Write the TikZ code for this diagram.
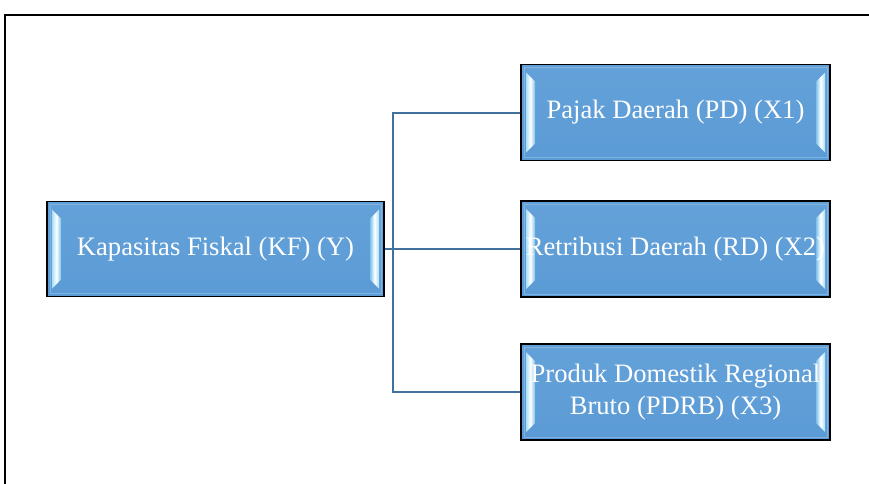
\documentclass[tikz,border=0pt]{standalone}
\usepackage{fontspec}
\setmainfont{Liberation Serif}
\usetikzlibrary{calc}

\definecolor{boxfill}{HTML}{5B9BD5}
\definecolor{boxtop}{HTML}{64A1D9}
\definecolor{rimcol}{HTML}{80B2E2}
\definecolor{linkcol}{HTML}{41719C}
\definecolor{bevout}{HTML}{A9E0F8}
\definecolor{bevin}{HTML}{7CC2EC}

\tikzset{
  bevelbox/.style={
    draw=black, line width=1.8pt, top color=boxtop, bottom color=boxfill,
    text=white, inner sep=0pt, align=center,
    font=\fontsize{26.6}{32}\selectfont,
    path picture={
      % thin lighter rim just inside the border
      \draw[rimcol, line width=1pt]
        ($(path picture bounding box.north west)+(3,3)$) rectangle
        ($(path picture bounding box.south east)+(-3,-3)$);
      % left bevel strip
      \shade[left color=bevout, right color=bevin, middle color=white]
        ($(path picture bounding box.north west)+(5,8)$) --
        ($(path picture bounding box.north west)+(14,17)$) --
        ($(path picture bounding box.south west)+(14,-17)$) --
        ($(path picture bounding box.south west)+(5,-8)$) -- cycle;
      % right bevel strip
      \shade[left color=bevin, right color=bevout, middle color=white]
        ($(path picture bounding box.north east)+(-5,8)$) --
        ($(path picture bounding box.north east)+(-14,17)$) --
        ($(path picture bounding box.south east)+(-14,-17)$) --
        ($(path picture bounding box.south east)+(-5,-8)$) -- cycle;
    }
  },
  leftbox/.style={bevelbox, minimum width=337pt, minimum height=95pt},
  rightbox/.style={bevelbox, minimum width=309pt, minimum height=96pt},
  link/.style={draw=linkcol, line width=2pt}
}

\begin{document}
\begin{tikzpicture}[x=1pt,y=-1pt]
  \useasboundingbox (0,0) rectangle (869,483);

  % page frame
  \draw[black, line width=2pt] (5,490) -- (5,15) -- (875,15);

  % boxes
  \node[leftbox]  (kf)   at (215.5,249)   {Kapasitas Fiskal (KF) (Y)};
  \node[rightbox] (pd)   at (675.5,112.5) {Pajak Daerah (PD) (X1)};
  \node[rightbox] (rd)   at (675.5,249)   {Retribusi Daerah (RD) (X2)};
  \node[rightbox] (pdrb) at (675.5,392)   {Produk Domestik Regional\\Bruto (PDRB) (X3)};

  % connectors
  \coordinate (split) at ($(kf.east)+(8,0)$);
  \draw[link] (kf.east) -- (rd.west);
  \draw[link] (split) |- (pd.west);
  \draw[link] (split) |- (pdrb.west);
\end{tikzpicture}
\end{document}
